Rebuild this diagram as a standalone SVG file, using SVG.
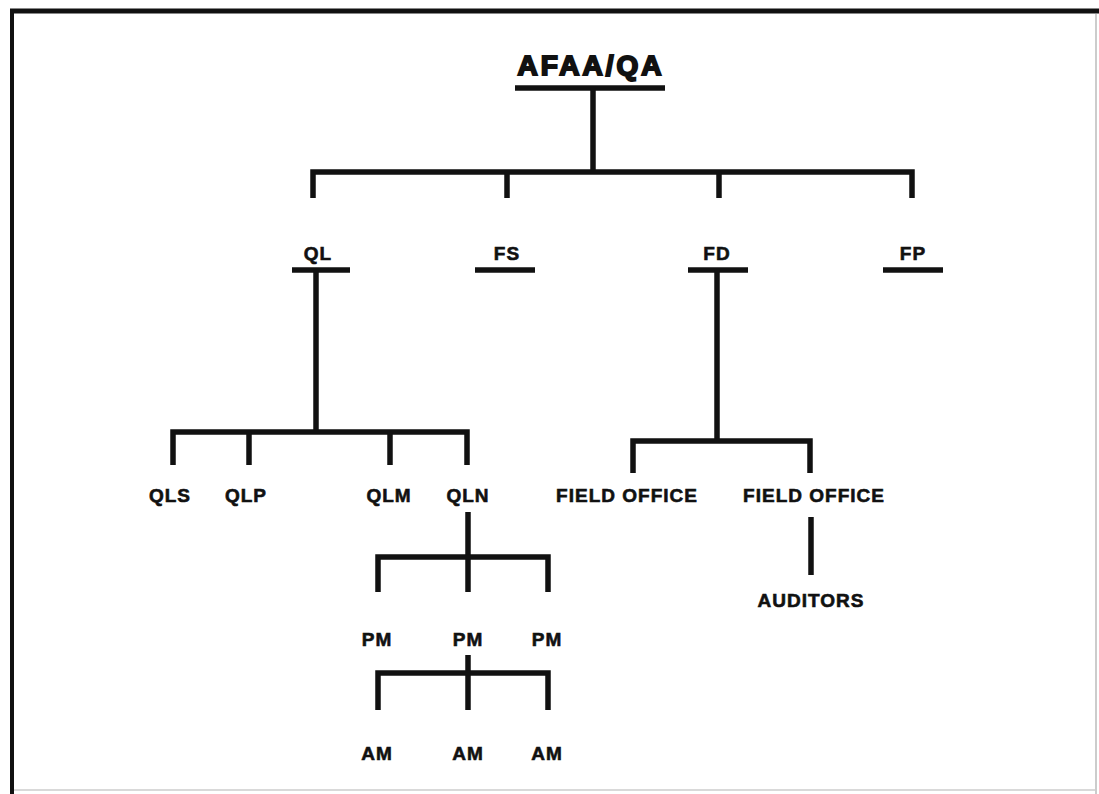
<svg xmlns="http://www.w3.org/2000/svg" width="1099" height="794" viewBox="0 0 1099 794">
  <style>
    .ln { stroke: #111; stroke-width: 5.5; fill: none; stroke-linecap: butt; }
    .lbl { font-family: "Liberation Sans", Arial, sans-serif; font-weight: bold; font-size: 19px; fill: #111; stroke: #111; stroke-width: 0.6; text-anchor: middle; letter-spacing: 1px; }
    .ttl { font-family: "Liberation Sans", Arial, sans-serif; font-weight: bold; font-size: 28px; fill: #111; stroke: #111; stroke-width: 2; text-anchor: middle; letter-spacing: 3px; }
  </style>
  <rect width="1099" height="794" fill="#fff"/>
  <!-- frame -->
  <g id="frame">
    <line x1="10" y1="11" x2="1099" y2="11" stroke="#111" stroke-width="5"/>
    <line x1="12" y1="9" x2="12" y2="794" stroke="#111" stroke-width="4"/>
    <line x1="1096" y1="14" x2="1096" y2="794" stroke="#bbb" stroke-width="1.5"/>
    <line x1="14" y1="790" x2="1096" y2="790" stroke="#ccc" stroke-width="1.5"/>
  </g>

  <!-- connectors -->
  <g id="connectors" class="ln">
    <!-- top level -->
    <line x1="515" y1="88" x2="665" y2="88"/>
    <line x1="593" y1="88" x2="593" y2="172"/>
    <polyline points="313,198 313,172 912,172 912,198"/>
    <line x1="507" y1="172" x2="507" y2="198"/>
    <line x1="719" y1="172" x2="719" y2="198"/>
    <!-- QL branch -->
    <line x1="292" y1="270" x2="350" y2="270"/>
    <line x1="316" y1="270" x2="316" y2="432"/>
    <polyline points="173,465 173,432 467,432 467,465"/>
    <line x1="249" y1="432" x2="249" y2="465"/>
    <line x1="390" y1="432" x2="390" y2="465"/>
    <!-- FS, FP -->
    <line x1="475" y1="270" x2="535" y2="270"/>
    <line x1="883" y1="270" x2="943" y2="270"/>
    <!-- FD branch -->
    <line x1="688" y1="270" x2="748" y2="270"/>
    <line x1="717" y1="270" x2="717" y2="441"/>
    <polyline points="633,473 633,441 810,441 810,473"/>
    <line x1="811" y1="517" x2="811" y2="575"/>
    <!-- QLN branch -->
    <line x1="468" y1="512" x2="468" y2="592"/>
    <polyline points="378,592 378,557 548,557 548,592"/>
    <!-- PM branch -->
    <line x1="468" y1="655" x2="468" y2="710"/>
    <polyline points="378,710 378,673 548,673 548,710"/>
  </g>

  <g id="n-root"><text class="ttl" x="591" y="75">AFAA/QA</text></g>
  <g id="n-ql"><text class="lbl" x="318" y="260">QL</text></g>
  <g id="n-fs"><text class="lbl" x="507" y="260">FS</text></g>
  <g id="n-fd"><text class="lbl" x="717" y="260">FD</text></g>
  <g id="n-fp"><text class="lbl" x="913" y="260">FP</text></g>
  <g id="n-qls"><text class="lbl" x="170" y="502">QLS</text></g>
  <g id="n-qlp"><text class="lbl" x="246" y="502">QLP</text></g>
  <g id="n-qlm"><text class="lbl" x="389" y="502">QLM</text></g>
  <g id="n-qln"><text class="lbl" x="468" y="502">QLN</text></g>
  <g id="n-fo1"><text class="lbl" x="627" y="502">FIELD OFFICE</text></g>
  <g id="n-fo2"><text class="lbl" x="814" y="502">FIELD OFFICE</text></g>
  <g id="n-aud"><text class="lbl" x="811" y="607">AUDITORS</text></g>
  <g id="n-pm1"><text class="lbl" x="377" y="646">PM</text></g>
  <g id="n-pm2"><text class="lbl" x="468" y="646">PM</text></g>
  <g id="n-pm3"><text class="lbl" x="547" y="646">PM</text></g>
  <g id="n-am1"><text class="lbl" x="377" y="760">AM</text></g>
  <g id="n-am2"><text class="lbl" x="468" y="760">AM</text></g>
  <g id="n-am3"><text class="lbl" x="547" y="760">AM</text></g>
</svg>
